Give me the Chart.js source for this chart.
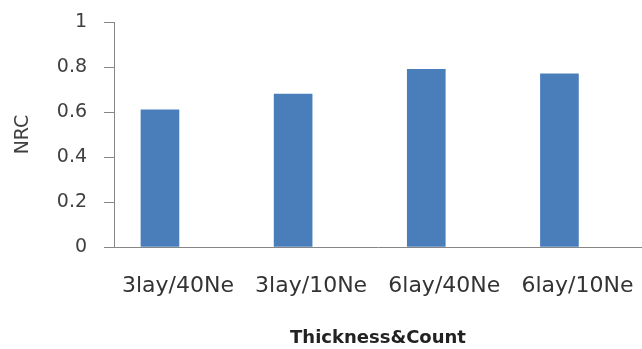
<!DOCTYPE html>
<html>
<head>
<meta charset="utf-8">
<script src="https://cdn.jsdelivr.net/npm/chart.js@4.4.1/dist/chart.umd.min.js"></script>
<style>
  html, body { margin: 0; padding: 0; background: #ffffff; }
  #wrap { width: 642px; height: 349px; }
</style>
</head>
<body>
<div id="wrap"><canvas id="chart" width="642" height="349"></canvas></div>
<script>
// Sample configurations (layer thickness / needle count)
const categories = ['3lay/40Ne', '3lay/10Ne', '6lay/40Ne', '6lay/10Ne'];
// Noise reduction coefficient per configuration
const nrcValues = [0.61, 0.68, 0.79, 0.77];
// Value axis ticks
const yTicks = [0, 0.2, 0.4, 0.6, 0.8, 1];

const points = categories.map((c, i) => ({ x: i, y: nrcValues[i] }));

new Chart(document.getElementById('chart'), {
  type: 'bar',
  data: {
    datasets: [{
      label: 'NRC',
      data: points,
      backgroundColor: '#4a7ebb',
      borderWidth: 0,
      barThickness: 38
    }]
  },
  options: {
    responsive: false,
    animation: false,
    layout: { padding: { left: 12, right: 0, top: 22, bottom: 0 } },
    plugins: { legend: { display: false }, tooltip: { enabled: false } },
    scales: {
      x: {
        type: 'linear',
        offset: false,
        min: -0.345,
        max: 3.62,
        afterBuildTicks: (axis) => { axis.ticks = categories.map((c, i) => ({ value: i })); },
        grid: { display: false, drawTicks: false },
        border: { display: true, color: '#868686', width: 1 },
        ticks: {
          callback: (v) => categories[v],
          autoSkip: false,
          maxRotation: 0,
          minRotation: 0,
          labelOffset: 18,
          padding: 26,
          color: '#333333',
          font: { family: 'DejaVu Sans', size: 22 }
        },
        title: {
          display: true,
          text: 'Thickness&Count',
          color: '#222222',
          font: { family: 'DejaVu Sans', size: 18, weight: 'bold' },
          padding: { top: 2, bottom: 0 }
        }
      },
      y: {
        min: 0,
        max: 1,
        afterBuildTicks: (axis) => { axis.ticks = yTicks.map(v => ({ value: v })); },
        // 27px tick slot: a 17px gap next to the labels, then a 10px visible mark
        grid: {
          drawOnChartArea: false,
          drawTicks: true,
          tickLength: 27,
          color: '#868686',
          tickBorderDash: [10, 17],
          tickBorderDashOffset: 10
        },
        border: { display: true, color: '#868686', width: 1 },
        ticks: {
          padding: 0,
          color: '#404040',
          font: { family: 'DejaVu Sans', size: 19 },
          callback: (v) => String(Math.round(v * 10) / 10)
        },
        title: {
          display: true,
          text: 'NRC',
          color: '#404040',
          font: { family: 'DejaVu Sans', size: 19 },
          padding: { top: 0, bottom: 22 }
        }
      }
    }
  }
});
</script>
</body>
</html>
